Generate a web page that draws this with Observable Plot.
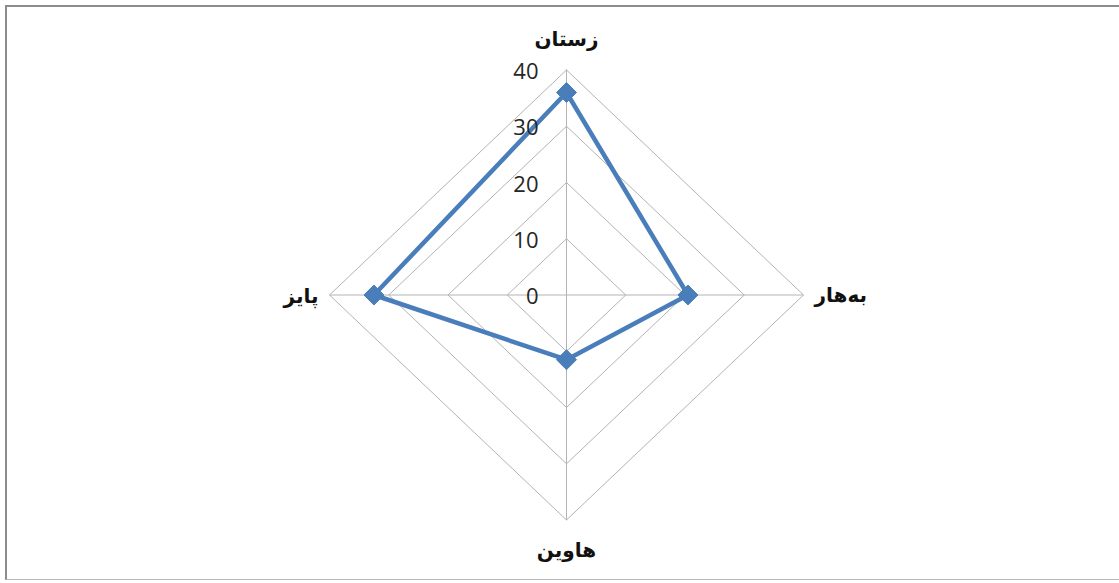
<!DOCTYPE html>
<html>
<head>
<meta charset="utf-8">
<script src="https://cdn.jsdelivr.net/npm/d3@7"></script>
<script src="https://cdn.jsdelivr.net/npm/@observablehq/plot@0.6"></script>
<style>
  html, body { margin: 0; padding: 0; background: #fff; }
  #wrap { position: relative; width: 1119px; height: 583px; overflow: hidden; }
  #frame { position: absolute; left: 5px; top: 5px; width: 1120px; height: 575px;
           border-left: 2px solid #8c8c8c; border-top: 2px solid #8c8c8c; border-bottom: 1px solid #b8b8b8; box-sizing: border-box; }
  #chart { position: absolute; left: 0; top: 0; }
</style>
</head>
<body>
<div id="wrap"><div id="frame"></div><div id="chart"></div></div>
<script>
// Data
const seasons = ["زستان", "بەهار", "هاوین", "پایز"];   // top, right, bottom, left (clockwise)
const values  = [36, 20.5, 11.5, 32.5];
const rings   = [10, 20, 30, 40];
const tickValues = [0, 10, 20, 30, 40];
const maxValue = 40;

// polar -> cartesian helper (angle clockwise from top)
const angleOf = i => (2 * Math.PI * i) / seasons.length;
const px = (i, r) => r * Math.sin(angleOf(i));
const py = (i, r) => r * Math.cos(angleOf(i));

const points = seasons.map((s, i) => ({season: s, value: values[i], x: px(i, values[i]), y: py(i, values[i])}));
const ringPts = rings.flatMap(r => [...seasons, seasons[0]].map((s, k) => ({ring: r, x: px(k % seasons.length, r), y: py(k % seasons.length, r)})));
const spokes = seasons.map((s, i) => ({x1: 0, y1: 0, x2: px(i, maxValue), y2: py(i, maxValue)}));
const ticks = tickValues.map(v => ({v, x: 0, y: v}));
const labels = seasons.map((s, i) => ({season: s, x: px(i, maxValue), y: py(i, maxValue), i}));

const labelFont = {fontSize: 20, fontWeight: "bold", fill: "#111", fontFamily: "'DejaVu Sans', sans-serif"};

const chart = Plot.plot({
  width: 1119,
  height: 583,
  marginLeft: 329,
  marginRight: 316,
  marginTop: 69.5,
  marginBottom: 63.5,
  x: {domain: [-maxValue, maxValue], axis: null},
  y: {domain: [-maxValue, maxValue], axis: null},
  style: {background: "transparent", overflow: "visible"},
  marks: [
    Plot.line(ringPts, {x: "x", y: "y", z: "ring", stroke: "#b3b3b3", strokeWidth: 1, curve: "linear-closed"}),
    Plot.link(spokes, {x1: "x1", y1: "y1", x2: "x2", y2: "y2", stroke: "#b3b3b3", strokeWidth: 1}),
    Plot.line(points, {x: "x", y: "y", stroke: "#4a7ebb", strokeWidth: 4.5, curve: "linear-closed", strokeLinejoin: "round"}),
    Plot.dot(points, {x: "x", y: "y", symbol: "diamond2", r: 9, fill: "#4a7ebb", stroke: "#4a7ebb", strokeWidth: 1}),
    Plot.text(ticks, {x: "x", y: "y", text: d => String(d.v), textAnchor: "end", dx: -28, dy: 2,
      fontSize: 22, fill: "#262626", fontFamily: "'Open Sans', 'Noto Sans', sans-serif"}),
    Plot.text(labels.filter(d => d.i === 0), {x: "x", y: "y", text: "season", dy: -30, ...labelFont}),
    Plot.text(labels.filter(d => d.i === 1), {x: "x", y: "y", text: "season", dx: 11, textAnchor: "start", dy: 1, ...labelFont}),
    Plot.text(labels.filter(d => d.i === 2), {x: "x", y: "y", text: "season", dy: 31, ...labelFont}),
    Plot.text(labels.filter(d => d.i === 3), {x: "x", y: "y", text: "season", dx: -11, textAnchor: "end", dy: 2, ...labelFont})
  ]
});
document.getElementById("chart").appendChild(chart);
</script>
</body>
</html>
